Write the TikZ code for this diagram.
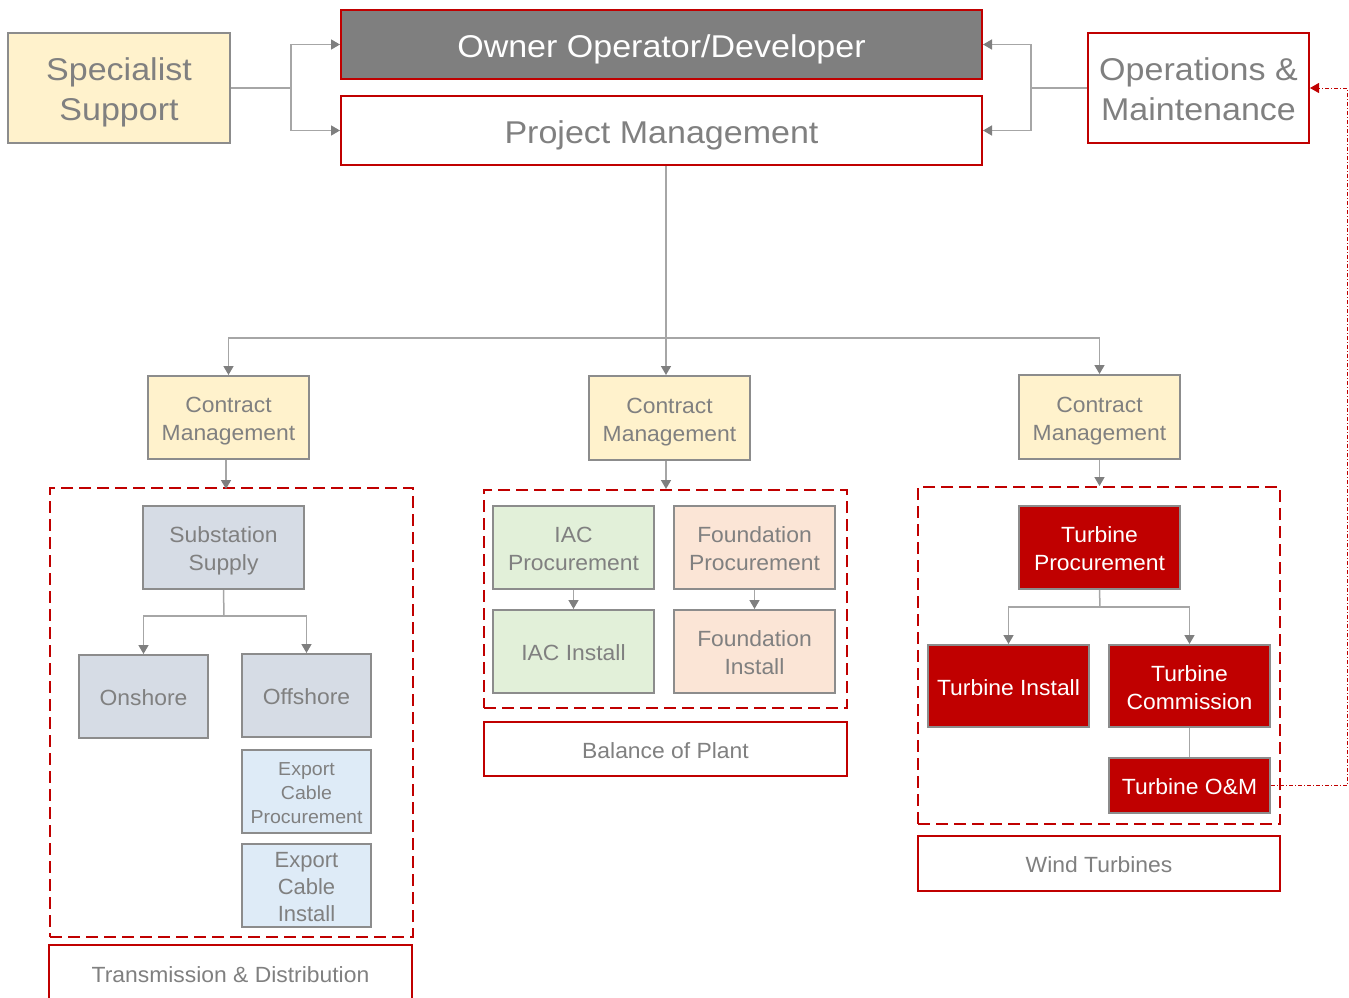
\documentclass[tikz,border=0pt]{standalone}
\usepackage{fontspec}
\setmainfont{Liberation Sans}
\newfontfamily\bigface[FakeStretch=1.08]{Liberation Sans}
\newfontfamily\smallface[FakeStretch=1.04]{Liberation Sans}
\usetikzlibrary{arrows.meta}
\definecolor{txtgray}{HTML}{808080}
\definecolor{edgegray}{HTML}{8C8C8C}
\definecolor{linegray}{HTML}{A6A6A6}
\definecolor{tipgray}{HTML}{7F7F7F}
\definecolor{darkred}{HTML}{C00000}
\definecolor{ownerfill}{HTML}{7F7F7F}
\definecolor{creamfill}{HTML}{FFF2CC}
\definecolor{slatefill}{HTML}{D6DCE5}
\definecolor{skyfill}{HTML}{DEEBF7}
\definecolor{greenfill}{HTML}{E2F0D9}
\definecolor{peachfill}{HTML}{FBE5D6}
% fixed ascent/descent so a text block is centred by font metrics, not by its glyphs
\newcommand\ls{\rule[-0.22em]{0pt}{1.26em}}
\tikzset{
  box/.style={draw=edgegray, line width=2pt, inner sep=0pt, align=center,
    text=txtgray, font=\smallface\fontsize{22}{28}\selectfont},
  redbox/.style={draw=darkred, line width=2pt, fill=white, inner sep=0pt,
    align=center, text=txtgray, font=\smallface\fontsize{22}{28}\selectfont},
  bigtext/.style={font=\bigface\fontsize{31.5}{40}\selectfont},
  group/.style={draw=darkred, line width=2pt, dash pattern=on 12pt off 6pt, inner sep=0pt},
  turbine/.style={box, fill=darkred, text=white},
  cmbox/.style={box, fill=creamfill, minimum width=161pt},
  conn/.style={draw=linegray, line width=1.5pt},
  arr/.style={conn, -{Triangle[length=9pt,width=10pt,color=tipgray]}},
  feedback/.style={draw=darkred, line width=1pt, dash pattern=on 4pt off 2pt on 1pt off 2pt,
    -{Triangle[length=9pt,width=10pt,color=darkred]}},
}
\begin{document}
\begin{tikzpicture}[x=1pt,y=-1pt]
\useasboundingbox (0,0) rectangle (1349,998);

% top tier
\node[box, bigtext, fill=creamfill, minimum width=222pt, minimum height=110pt] (spec) at (119,88) {\ls Specialist\\Support\ls};
\node[redbox, bigtext, fill=ownerfill, text=white, minimum width=641pt, minimum height=69pt] (owner) at (661.5,44.5) {\ls Owner Operator/Developer\ls};
\node[redbox, bigtext, minimum width=641pt, minimum height=69pt] (pm) at (661.5,130.5) {\ls Project Management\ls};
\node[redbox, bigtext, minimum width=221pt, minimum height=110pt] (om) at (1198.5,88) {\ls Operations \&\\Maintenance\ls};

% contract management tier
\node[cmbox, minimum height=83pt] (cmL) at (228.5,417.5) {\ls Contract\\Management\ls};
\node[cmbox, minimum height=84pt] (cmM) at (669.5,418) {\ls Contract\\Management\ls};
\node[cmbox, minimum height=84pt] (cmR) at (1099.5,417) {\ls Contract\\Management\ls};

% package groups
\node[group, minimum width=363pt, minimum height=449pt] (grpL) at (231.5,712.5) {};
\node[group, minimum width=363pt, minimum height=218pt] (grpM) at (665.5,599) {};
\node[group, minimum width=362pt, minimum height=337pt] (grpR) at (1099,655.5) {};

\node[redbox, minimum width=363pt, minimum height=56pt] (td) at (230.5,973) {\ls Transmission \& Distribution\ls};
\node[redbox, minimum width=363pt, minimum height=54pt] (bop) at (665.5,749) {\ls Balance of Plant\ls};
\node[redbox, minimum width=362pt, minimum height=55pt] (wt) at (1099,863.5) {\ls Wind Turbines\ls};

% transmission & distribution packages
\node[box, fill=slatefill, minimum width=161pt, minimum height=83pt] (sub) at (223.5,547.5) {\ls Substation\\Supply\ls};
\node[box, fill=slatefill, minimum width=129pt, minimum height=83pt] (on) at (143.5,696.5) {\ls Onshore\ls};
\node[box, fill=slatefill, minimum width=129pt, minimum height=83pt] (off) at (306.5,695.5) {\ls Offshore\ls};
\node[box, fill=skyfill, minimum width=129pt, minimum height=83pt, font=\smallface\fontsize{18.8}{24}\selectfont] (ecp) at (306.5,791.5) {\ls Export\\Cable\\Procurement\ls};
\node[box, fill=skyfill, minimum width=129pt, minimum height=83pt, font=\fontsize{22}{27}\selectfont] (eci) at (306.5,885.5) {\ls Export\\Cable\\Install\ls};

% balance of plant packages
\node[box, fill=greenfill, minimum width=161pt, minimum height=83pt] (iacp) at (573.5,547.5) {\ls IAC\\Procurement\ls};
\node[box, fill=greenfill, minimum width=161pt, minimum height=83pt] (iaci) at (573.5,651.5) {\ls IAC Install\ls};
\node[box, fill=peachfill, minimum width=161pt, minimum height=83pt] (fp) at (754.5,547.5) {\ls Foundation\\Procurement\ls};
\node[box, fill=peachfill, minimum width=161pt, minimum height=83pt] (fi) at (754.5,651.5) {\ls Foundation\\Install\ls};

% wind turbine packages
\node[turbine, minimum width=161pt, minimum height=83pt] (tp) at (1099.5,547.5) {\ls Turbine\\Procurement\ls};
\node[turbine, minimum width=161pt, minimum height=82pt] (ti) at (1008.5,686) {\ls Turbine Install\ls};
\node[turbine, minimum width=161pt, minimum height=82pt] (tc) at (1189.5,686) {\ls Turbine\\Commission\ls};
\node[turbine, minimum width=161pt, minimum height=55pt] (tom) at (1189.5,785.5) {\ls Turbine O\&M\ls};

% support links into the owner and project management
\draw[arr] (spec.east) -- ++(60,0) |- (owner.west);
\draw[arr] (spec.east) -- ++(60,0) |- (pm.west);
\draw[arr] (om.west) -- ++(-56,0) |- (owner.east);
\draw[arr] (om.west) -- ++(-56,0) |- (pm.east);

% project management down to the three contract managers
\coordinate (bus) at (666,338);
\draw[conn] (pm.south -| bus) -- (bus);
\draw[arr] (bus) -| (cmL.north);
\draw[arr] (bus) -| (cmR.north);
\draw[arr] (bus) -- (bus |- cmM.north);

% contract managers into their groups
\draw[arr] (cmL.south) ++(-2.5,0) -- ++(0,29);
\draw[arr] (bus |- cmM.south) -- (bus |- grpM.north);
\draw[arr] (cmR.south) -- (cmR.south |- grpR.north);

% substation split
\coordinate (subsplit) at (224,616);
\draw[conn] (sub.south) -- (subsplit);
\draw[arr] (subsplit) -| (on.north);
\draw[arr] (subsplit) -| (off.north);

% balance of plant sequences
\draw[arr] (iacp.south) -- (iaci.north);
\draw[arr] (fp.south) -- (fi.north);

% turbine sequence
\coordinate (tsplit) at (1100,607);
\draw[conn] (tp.south) -- (tsplit);
\draw[arr] (tsplit) -| (ti.north);
\draw[arr] (tsplit) -| (tc.north);
\draw[conn] (tc.south) -- (tom.north);

% turbine O&M feeds operations & maintenance
\draw[feedback] (tom.east) -- (1347,785.5) |- (om.east);
\end{tikzpicture}
\end{document}
